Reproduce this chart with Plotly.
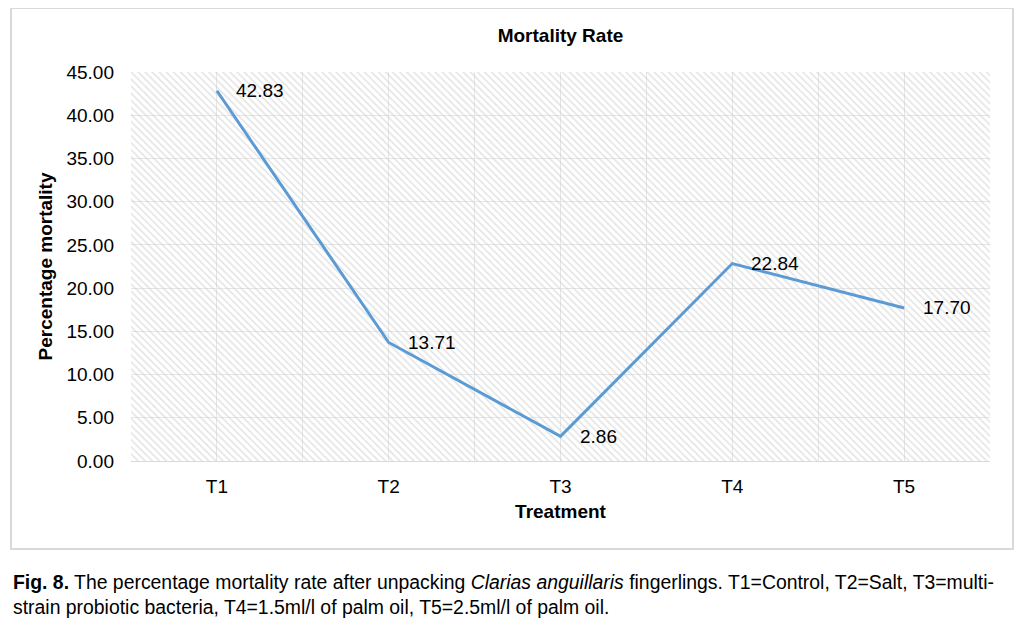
import plotly.graph_objects as go

categories = ["T1", "T2", "T3", "T4", "T5"]
mortality = [42.83, 13.71, 2.86, 22.84, 17.70]
y_ticks = [0, 5, 10, 15, 20, 25, 30, 35, 40, 45]
y_max = 45

FONT = "Liberation Sans, Arial, sans-serif"
xpos = list(range(len(categories)))
x_lo, x_hi = -0.5, len(categories) - 0.5

# page body has an 8px offset; figure sized to fit inside the window
W, H = 1008, 612
PL, PR, PT, PB = 123, 26, 64, 159
pw, ph = W - PL - PR, H - PT - PB

fig = go.Figure()

# hatched plot-area background
fig.add_trace(go.Scatter(
    x=[x_lo, x_hi, x_hi, x_lo, x_lo],
    y=[0, 0, y_max, y_max, 0],
    mode="lines", line=dict(width=0),
    fill="toself", fillcolor="rgba(0,0,0,0)",
    fillpattern=dict(shape="\\", fgcolor="#c8c8c8", size=5, solidity=0.3),
    hoverinfo="skip", showlegend=False,
))

fig.add_trace(go.Scatter(
    x=xpos, y=mortality,
    mode="lines",
    line=dict(color="#5b9bd5", width=3),
    showlegend=False,
))

for xi, v in zip(xpos, mortality):
    fig.add_annotation(x=xi, y=v, xref="x", yref="y", text=f"{v:.2f}",
                       showarrow=False, xanchor="left", yanchor="middle", xshift=17,
                       font=dict(family=FONT, size=19, color="#000000"))

fig.update_layout(
    width=W, height=H,
    paper_bgcolor="white", plot_bgcolor="white",
    margin=dict(l=PL, r=PR, t=PT, b=PB),
    title=dict(text="<b>Mortality Rate</b>", x=0.5, xref="paper", xanchor="center",
               y=1 - 27 / H, yref="container", yanchor="middle",
               font=dict(family=FONT, size=19, color="#000000")),
    font=dict(family=FONT, color="#000000"),
    xaxis=dict(
        range=[x_lo, x_hi], tickmode="array", tickvals=xpos, ticktext=categories,
        showgrid=True, gridcolor="#e6e6e6", gridwidth=1,
        minor=dict(tickmode="array", tickvals=[i - 0.5 for i in range(len(categories) + 1)],
                   showgrid=True, gridcolor="#e6e6e6", gridwidth=1),
        zeroline=False, showline=True, linecolor="#d9d9d9", linewidth=1,
        ticks="", tickfont=dict(family=FONT, size=19), ticklabelstandoff=8,
        title=dict(text="<b>Treatment</b>", font=dict(family=FONT, size=19), standoff=8),
    ),
    yaxis=dict(
        range=[0, y_max], tickmode="array", tickvals=y_ticks,
        ticktext=[f"{v:.2f}" for v in y_ticks],
        showgrid=True, gridcolor="#e6e6e6", gridwidth=1, zeroline=False,
        ticks="", tickfont=dict(family=FONT, size=19), ticklabelstandoff=16,
        title=dict(text="<b>Percentage mortality</b>", font=dict(family=FONT, size=19), standoff=8),
    ),
)

# outer chart border
fig.add_shape(type="rect", xref="paper", yref="paper",
              x0=-120 / pw, x1=1 + 23 / pw, y0=-88 / ph, y1=1 + 64 / ph,
              line=dict(color="#d9d9d9", width=2), fillcolor="rgba(0,0,0,0)", layer="below")

caption = ("<b>Fig. 8.</b> The percentage mortality rate after unpacking <i>Clarias anguillaris</i> "
           "fingerlings. T1=Control, T2=Salt, T3=multi-<br>"
           "strain probiotic bacteria, T4=1.5ml/l of palm oil, T5=2.5ml/l of palm oil.")
fig.add_annotation(text=caption, xref="paper", yref="paper",
                   x=-120 / pw, y=-(594 - 461) / ph, xanchor="left", yanchor="middle",
                   align="left", showarrow=False,
                   font=dict(family=FONT, size=19.4, color="#000000"))

fig.write_html("out.html")
